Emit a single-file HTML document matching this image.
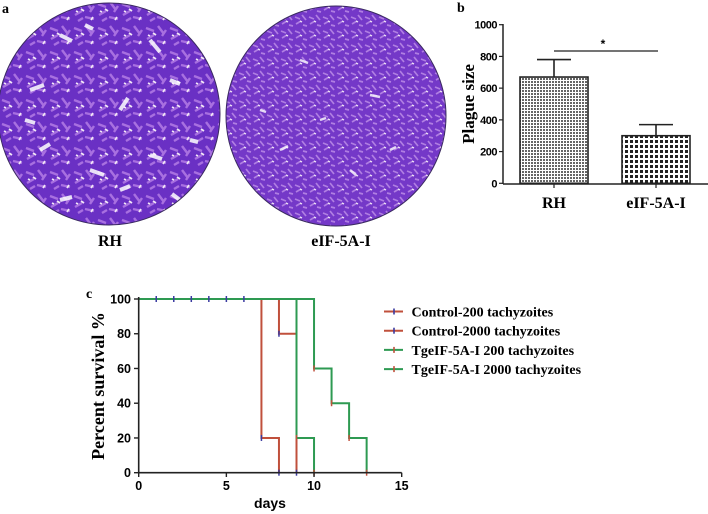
<!DOCTYPE html>
<html><head><meta charset="utf-8"><style>
body{margin:0;background:#fff;width:708px;height:514px;overflow:hidden}
svg{display:block}
.ser{font-family:"Liberation Serif",serif;font-weight:bold}
.san{font-family:"Liberation Sans",sans-serif;font-weight:bold}
</style></head><body>
<svg width="708" height="514" viewBox="0 0 708 514">
<defs>
<pattern id="cells" width="24" height="24" patternUnits="userSpaceOnUse">
<rect width="24" height="24" fill="#6a30c4"/>
<path d="M2 4 l8 3 M14 2 l6 8 M3 15 l7 -4 M13 17 l9 2 M6 21 l5 -3 M18 12 l4 -6" stroke="#a870e0" stroke-width="2.4"/>
<path d="M9 9 l3 2 M19 20 l2 -3 M4 11 l2 1" stroke="#f2e6f6" stroke-width="1.8"/>
</pattern>
<pattern id="cells2" width="14" height="14" patternUnits="userSpaceOnUse">
<rect width="14" height="14" fill="#7438c8"/>
<path d="M1 3 l5 2 M8 1 l4 5 M2 10 l5 -3 M9 11 l4 1" stroke="#b07ee2" stroke-width="1.7"/>
<path d="M6 7 l2 1" stroke="#efe3f5" stroke-width="1.3"/>
</pattern>
<pattern id="dots1" width="3" height="3" patternUnits="userSpaceOnUse"><rect width="3" height="3" fill="#fff"/><rect width="2" height="2" fill="#666"/></pattern>
<pattern id="dots2" width="5" height="5" patternUnits="userSpaceOnUse"><rect width="5" height="5" fill="#fff"/><rect width="3" height="3" fill="#222"/></pattern>
</defs>

<text class="ser" x="2" y="13" font-size="14">a</text>
<g>
<circle cx="109" cy="114" r="111" fill="url(#cells)"/>
<path d="M60 35 l12 6 M150 40 l10 12 M30 90 l14 -5 M170 80 l10 4 M90 170 l14 5 M40 150 l10 -6 M150 155 l12 4 M120 110 l8 -12 M60 200 l12 -3 M180 200 l-8 -6 M25 120 l10 3 M85 25 l8 4 M190 140 l8 2 M120 190 l10 -4" stroke="#fff" stroke-width="4" opacity="0.85"/>
<circle cx="109" cy="114" r="111" fill="none" stroke="#3a2a60" stroke-width="1"/>
</g>
<g>
<circle cx="336" cy="116" r="110" fill="url(#cells2)"/>
<path d="M300 60 l8 3 M370 95 l10 2 M280 150 l8 -4 M350 170 l6 5 M320 120 l6 -2 M260 110 l6 2 M390 150 l6 -3" stroke="#fff" stroke-width="2.5" opacity="0.8"/>
<circle cx="336" cy="116" r="110" fill="none" stroke="#3a2a60" stroke-width="1"/>
</g>
<text class="ser" x="110" y="246" font-size="16" text-anchor="middle">RH</text>
<text class="ser" x="341" y="246" font-size="16" text-anchor="middle">eIF-5A-I</text>

<text class="ser" x="457" y="12" font-size="14">b</text>
<g id="barchart"></g>

<text class="ser" x="86" y="298" font-size="14">c</text>
<g id="survival"></g>
</svg>
<script>
const NS="http://www.w3.org/2000/svg";
function mk(p,t,a,txt){const e=document.createElementNS(NS,t);for(const k in a)e.setAttribute(k,a[k]);if(txt!==undefined)e.textContent=txt;p.appendChild(e);return e;}

const barCats=["RH","eIF-5A-I"];
const barVals=[670,300];
const barErr=[110,70];
const barTicks=[0,200,400,600,800,1000];
const bg=document.getElementById('barchart');
const by=v=>183.3-(v/1000)*158.6;
const bx0=[520,622],bw=68;
mk(bg,'line',{x1:503,y1:24,x2:503,y2:184,stroke:'#222','stroke-width':1.5});
mk(bg,'line',{x1:503,y1:184,x2:708,y2:184,stroke:'#222','stroke-width':1.5});
barTicks.forEach(t=>{mk(bg,'line',{x1:499,y1:by(t),x2:503,y2:by(t),stroke:'#222','stroke-width':1.2});
 const l=mk(bg,'text',{x:497,y:by(t)+4,'text-anchor':'end','font-size':11,class:'san','letter-spacing':'-0.5'},t);
 
 });
barVals.forEach((v,i)=>{
 const x=bx0[i],cx=x+bw/2;
 mk(bg,'line',{x1:cx,y1:by(v),x2:cx,y2:by(v+barErr[i]),stroke:'#222','stroke-width':1.6});
 mk(bg,'line',{x1:cx-17,y1:by(v+barErr[i]),x2:cx+17,y2:by(v+barErr[i]),stroke:'#222','stroke-width':1.6});
 const r=mk(bg,'rect',{x:x,y:by(v),width:bw,height:by(0)-by(v),fill:i?'url(#dots2)':'url(#dots1)',stroke:'#222','stroke-width':1.6});
 
 
 mk(bg,'line',{x1:cx,y1:184,x2:cx,y2:188,stroke:'#222','stroke-width':1.2});
 const l=mk(bg,'text',{x:cx,y:208,'text-anchor':'middle','font-size':16,class:'ser'},barCats[i]);
 
 
});
mk(bg,'line',{x1:554,y1:51,x2:658,y2:51,stroke:'#222','stroke-width':1.2});
mk(bg,'text',{x:603,y:48,'text-anchor':'middle','font-size':12,class:'san'},'*');
const byt=mk(bg,'text',{x:0,y:0,'font-size':17,class:'ser','text-anchor':'middle',transform:'translate(474,104) rotate(-90)'},'Plague size');



const seriesNames=["Control-200 tachyzoites","Control-2000 tachyzoites","TgeIF-5A-I 200 tachyzoites","TgeIF-5A-I 2000 tachyzoites"];
const s1Days=[0,7,8]; const s1Surv=[100,20,0];
const s2Days=[0,8,9]; const s2Surv=[100,80,0];
const s3Days=[0,9,10]; const s3Surv=[100,20,0];
const s4Days=[0,10,11,12,13]; const s4Surv=[100,60,40,20,0];
const censorDays=[1,2,3,4,5,6];
const xTicks=[0,5,10,15]; const yTicks=[0,20,40,60,80,100];
const sg=document.getElementById('survival');
const X=d=>138.7+d*(263/15), Y=v=>472.7-v*1.737;
const RED='#c0503c',GRN='#2e9a52',BLU='#3a3aa0';
const series=[[s1Days,s1Surv,RED],[s2Days,s2Surv,RED],[s3Days,s3Surv,GRN],[s4Days,s4Surv,GRN]];
series.forEach((s,i)=>{
 const [d,v,c]=s;let p=`M${X(d[0])},${Y(v[0])}`;
 for(let k=1;k<d.length;k++){p+=` H${X(d[k])} V${Y(v[k])}`;}
 const e=mk(sg,'path',{d:p,fill:'none',stroke:c,'stroke-width':2});
 
 
 for(let k=1;k<d.length;k++){mk(sg,'line',{x1:X(d[k]),y1:Y(v[k])-3,x2:X(d[k]),y2:Y(v[k])+3,stroke:i<2?BLU:RED,'stroke-width':1.5});}
});
censorDays.forEach(d=>{mk(sg,'line',{x1:X(d),y1:Y(100)-3,x2:X(d),y2:Y(100)+3,stroke:BLU,'stroke-width':1.5});});
mk(sg,'line',{x1:138.7,y1:Y(100)-2,x2:138.7,y2:473.5,stroke:'#222','stroke-width':1.6});
mk(sg,'line',{x1:138,y1:472.7,x2:X(15),y2:472.7,stroke:'#222','stroke-width':1.6});
yTicks.forEach(t=>{mk(sg,'line',{x1:134,y1:Y(t),x2:138.7,y2:Y(t),stroke:'#222','stroke-width':1.4});
 const l=mk(sg,'text',{x:131,y:Y(t)+4.5,'text-anchor':'end','font-size':12.5,class:'san'},t);
 
 });
xTicks.forEach(t=>{mk(sg,'line',{x1:X(t),y1:472.7,x2:X(t),y2:477,stroke:'#222','stroke-width':1.4});
 const l=mk(sg,'text',{x:X(t),y:490,'text-anchor':'middle','font-size':12.5,class:'san'},t);
 
 });
const xt=mk(sg,'text',{x:270,y:508,'text-anchor':'middle','font-size':14,class:'san'},'days');


const yt=mk(sg,'text',{x:0,y:0,'text-anchor':'middle','font-size':18,class:'ser',transform:'translate(104,386) rotate(-90)'},'Percent survival %');


const lc=[RED,RED,GRN,GRN],lm=[BLU,BLU,RED,RED];
seriesNames.forEach((n,i)=>{
 const y=311.5+i*19.2;
 const g=mk(sg,'g',{});
 
 
 mk(g,'line',{x1:384,y1:y,x2:403,y2:y,stroke:lc[i],'stroke-width':2});
 mk(g,'line',{x1:394,y1:y-3,x2:394,y2:y+3,stroke:lm[i],'stroke-width':1.6});
 mk(g,'text',{x:411.5,y:y+5,'font-size':14,class:'ser'},n);
});
</script>
</body></html>
